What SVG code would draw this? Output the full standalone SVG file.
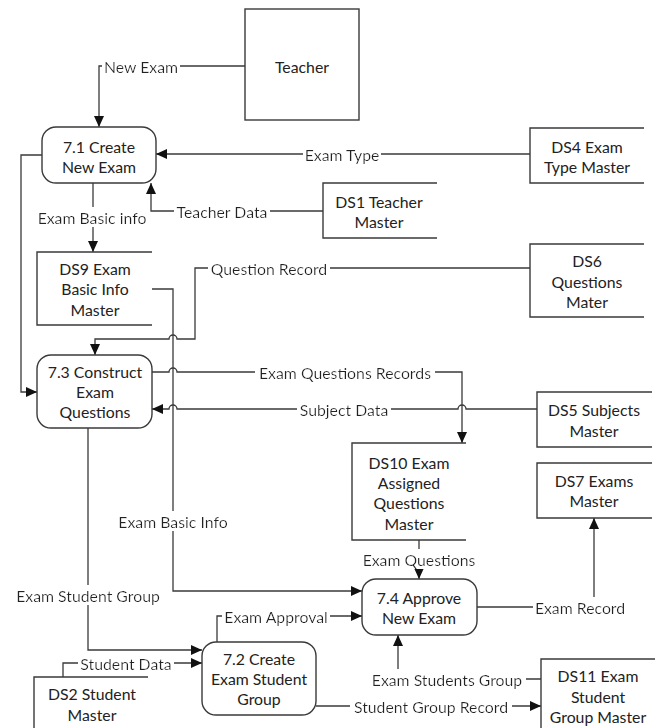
<svg xmlns="http://www.w3.org/2000/svg" width="662" height="728" viewBox="0 0 662 728">
  <style>
    .shape { fill: #ffffff; stroke: #3a3a3a; stroke-width: 1.4; }
    .store { fill: none; stroke: #3a3a3a; stroke-width: 1.4; }
    .flow { fill: none; stroke: #3a3a3a; stroke-width: 1.3; }
    .arrow { marker-end: url(#head); }
    text { font-family: Lato, "Open Sans", sans-serif; font-size: 15.8px; fill: #222222; text-anchor: middle; dominant-baseline: central; }
    .lbl { filter: url(#knockout); }
  </style>
  <defs>
    <marker id="head" markerUnits="userSpaceOnUse" markerWidth="12" markerHeight="10" refX="11" refY="5" orient="auto">
      <path d="M0,0 L11,5 L0,10 Z" fill="#111111"/>
    </marker>
    <!-- white box behind flow labels so the line is broken under the text -->
    <filter id="knockout" x="-0.02" y="0" width="1.04" height="1">
      <feFlood flood-color="#ffffff"/>
      <feComposite in="SourceGraphic" operator="over"/>
    </filter>
  </defs>
  <rect width="662" height="728" fill="#ffffff"/>

  <!-- connectors -->
  <g id="connectors">
    <path class="flow arrow" d="M245 66 H99 V127"/>
    <path class="flow arrow" d="M530 154 H156"/>
    <path class="flow arrow" d="M323 211 H151 V183"/>
    <path class="flow arrow" d="M42 155 H21 V392 H37"/>
    <path class="flow arrow" d="M93 183 V252"/>
    <path class="flow arrow" d="M152 289 H173 V591 H362"/>
    <path class="flow arrow" d="M530 268 H195 V339 H177 A4 4 0 0 0 169 339 H95 V355"/>
    <path class="flow arrow" d="M152 372 H169 A4 4 0 0 1 177 372 H462 V443"/>
    <path class="flow arrow" d="M537 409 H466 A4 4 0 0 0 458 409 H177 A4 4 0 0 0 169 409 H152"/>
    <path class="flow arrow" d="M419 540 V579"/>
    <path class="flow arrow" d="M477 607 H594 V518"/>
    <path class="flow arrow" d="M217 642 V616 H362"/>
    <path class="flow arrow" d="M88 428 V650 H202"/>
    <path class="flow arrow" d="M63 677 V663 H202"/>
    <path class="flow arrow" d="M316 706 H541"/>
    <path class="flow arrow" d="M541 679 H398 V635"/>

    <text class="lbl" x="141" y="66">New Exam</text>
    <text class="lbl" x="342" y="154">Exam Type</text>
    <text class="lbl" x="222" y="211">Teacher Data</text>
    <text class="lbl" x="92" y="217">Exam Basic info</text>
    <text class="lbl" x="269" y="268">Question Record</text>
    <text class="lbl" x="345" y="372">Exam Questions Records</text>
    <text class="lbl" x="344" y="409">Subject Data</text>
    <text class="lbl" x="173" y="521">Exam Basic Info</text>
    <text class="lbl" x="88" y="595">Exam Student Group</text>
    <text class="lbl" x="419" y="559">Exam Questions</text>
    <text class="lbl" x="580" y="607">Exam Record</text>
    <text class="lbl" x="276" y="616">Exam Approval</text>
    <text class="lbl" x="126" y="663">Student Data</text>
    <text class="lbl" x="447" y="679">Exam Students Group</text>
    <text class="lbl" x="431" y="706">Student Group Record</text>
  </g>

  <!-- external entity -->
  <g id="teacher">
    <rect class="shape" x="245" y="9" width="114" height="111"/>
    <text x="302" y="66">Teacher</text>
  </g>

  <!-- processes -->
  <g id="p7-1">
    <rect class="shape" x="42" y="127" width="114" height="56" rx="14"/>
    <text x="99" y="146">7.1 Create</text>
    <text x="99" y="166">New Exam</text>
  </g>
  <g id="p7-3">
    <rect class="shape" x="37" y="355" width="115" height="73" rx="14"/>
    <text x="95" y="371">7.3 Construct</text>
    <text x="95" y="391">Exam</text>
    <text x="95" y="411">Questions</text>
  </g>
  <g id="p7-4">
    <rect class="shape" x="362" y="579" width="115" height="56" rx="14"/>
    <text x="419" y="597">7.4 Approve</text>
    <text x="419" y="617">New Exam</text>
  </g>
  <g id="p7-2">
    <rect class="shape" x="202" y="642" width="114" height="73" rx="14"/>
    <text x="259" y="658">7.2 Create</text>
    <text x="259" y="678">Exam Student</text>
    <text x="259" y="698">Group</text>
  </g>

  <!-- data stores -->
  <g id="ds4">
    <path class="store" d="M644 128 H530 V183 H644"/>
    <text x="587" y="146">DS4 Exam</text>
    <text x="587" y="166">Type Master</text>
  </g>
  <g id="ds1">
    <path class="store" d="M437 183 H323 V238 H437"/>
    <text x="379" y="201">DS1 Teacher</text>
    <text x="379" y="221">Master</text>
  </g>
  <g id="ds9">
    <path class="store" d="M152 252 H37 V325 H152"/>
    <text x="95" y="268">DS9 Exam</text>
    <text x="95" y="288">Basic Info</text>
    <text x="95" y="309">Master</text>
  </g>
  <g id="ds6">
    <path class="store" d="M644 244 H530 V317 H644"/>
    <text x="587" y="260">DS6</text>
    <text x="587" y="281">Questions</text>
    <text x="587" y="301">Mater</text>
  </g>
  <g id="ds5">
    <path class="store" d="M652 392 H537 V447 H652"/>
    <text x="594" y="409">DS5 Subjects</text>
    <text x="594" y="430">Master</text>
  </g>
  <g id="ds10">
    <path class="store" d="M466 443 H352 V540 H466"/>
    <text x="409" y="462">DS10 Exam</text>
    <text x="409" y="482">Assigned</text>
    <text x="409" y="502">Questions</text>
    <text x="409" y="523">Master</text>
  </g>
  <g id="ds7">
    <path class="store" d="M652 463 H537 V518 H652"/>
    <text x="594" y="480">DS7 Exams</text>
    <text x="594" y="500">Master</text>
  </g>
  <g id="ds2">
    <path class="store" d="M148 677 H34 V728"/>
    <text x="92" y="693">DS2 Student</text>
    <text x="92" y="714">Master</text>
  </g>
  <g id="ds11">
    <path class="store" d="M655 659 H541 V728"/>
    <text x="598" y="675">DS11 Exam</text>
    <text x="598" y="696">Student</text>
    <text x="598" y="716">Group Master</text>
  </g>
</svg>
